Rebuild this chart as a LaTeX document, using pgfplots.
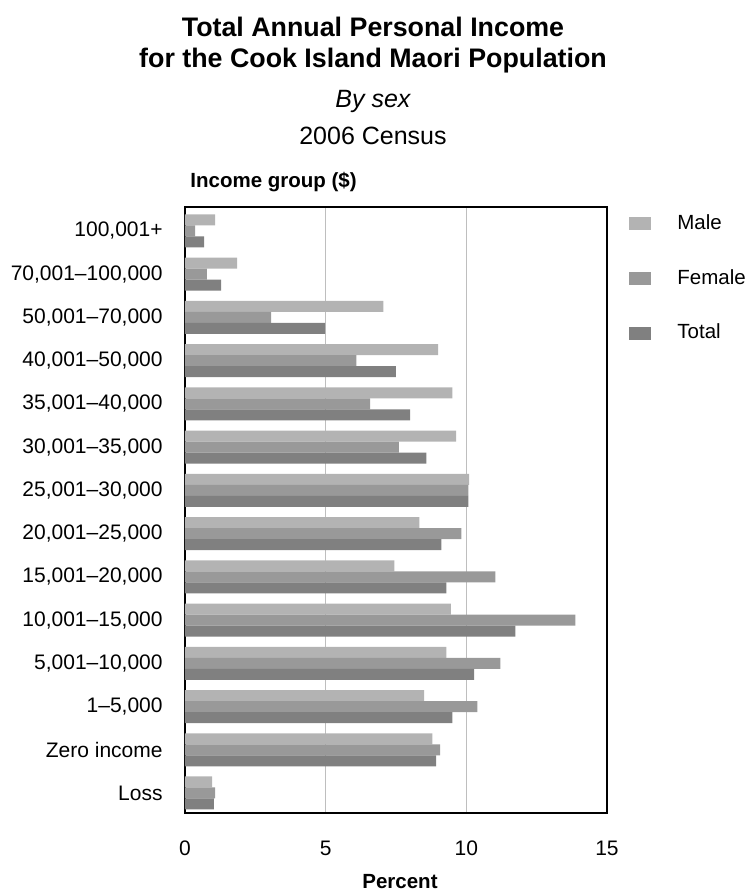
\documentclass[border=0pt]{standalone}
\usepackage{pgfplots}
\pgfplotsset{compat=1.18}
\usepackage{fontspec}
\setmainfont{Liberation Sans}
\definecolor{cmale}{HTML}{B3B3B3}
\definecolor{cfemale}{HTML}{999999}
\definecolor{ctotal}{HTML}{808080}
\definecolor{gridc}{HTML}{BEBEBE}
\pgfplotsset{legsq/.style={legend image code/.code={\fill[##1] (0pt,-3.25pt) rectangle (11pt,3.25pt);}}}
\pgfplotstableread{
y male female total
0 0.96 1.07 1.03
1 8.79 9.07 8.93
2 8.50 10.39 9.50
3 9.29 11.21 10.28
4 9.45 13.88 11.74
5 7.44 11.03 9.29
6 8.33 9.82 9.11
7 10.10 10.07 10.07
8 9.64 7.60 8.58
9 9.50 6.58 8.00
10 9.00 6.09 7.50
11 7.05 3.06 4.98
12 1.85 0.78 1.28
13 1.07 0.36 0.68
}\datatable
\begin{document}
\begin{tikzpicture}
\path[use as bounding box] (-92.5pt,-39pt) rectangle (281pt,406.5pt);
\begin{axis}[
  at={(0pt,0pt)}, anchor=south west,
  scale only axis, width=211pt, height=303pt,
  xbar, xmin=0, xmax=15, ymin=-0.463, ymax=13.555,
  bar width=0.2545,
  xtick={0,5,10,15},
  ytick={0,...,13},
  yticklabels={{Loss},{Zero income},{1–5,000},{5,001–10,000},{10,001–15,000},{15,001–20,000},{20,001–25,000},{25,001–30,000},{30,001–35,000},{35,001–40,000},{40,001–50,000},{50,001–70,000},{70,001–100,000},{100,001+}},
  major tick length=0pt, tick style={draw=none},
  xmajorgrids, grid style={gridc, line width=0.6pt},
  axis line style={black, line width=1pt},
  /pgf/number format/assume math mode=true,
  tick label style={font=\fontsize{10.5}{12}\selectfont},
  xticklabel style={anchor=base, inner sep=0pt, yshift=-21pt},
  yticklabel style={anchor=east, inner sep=0pt, xshift=-11pt},
  xlabel={Percent},
  xlabel style={at={(axis description cs:0.5,0)}, anchor=base, inner sep=0pt, yshift=-37.5pt, xshift=2pt, font=\fontsize{10.25}{12}\bfseries\selectfont},
  legend style={at={(rel axis cs:1,1)}, anchor=north west, draw=none, fill=none, font=\fontsize{10.25}{12}\selectfont, row sep=14.5pt, xshift=8pt, yshift=0.5pt,
    /tikz/every odd column/.append style={column sep=11pt}},
  legend cell align=left,
]
\addplot[xbar, fill=cmale, draw=none, bar shift=0.2545, legsq] table[x=male, y=y] {\datatable};
\addplot[xbar, fill=cfemale, draw=none, bar shift=0, legsq] table[x=female, y=y] {\datatable};
\addplot[xbar, fill=ctotal, draw=none, bar shift=-0.2545, legsq] table[x=total, y=y] {\datatable};
\legend{Male,Female,Total}
\end{axis}
\node[anchor=base west, inner sep=0pt, font=\fontsize{10.25}{12}\bfseries\selectfont] at (2.5pt,312.5pt) {Income group (\$)};
\node[anchor=base, inner sep=0pt, font=\fontsize{13.4}{15}\bfseries\selectfont] at (94pt,388pt) {Total Annual Personal Income};
\node[anchor=base, inner sep=0pt, font=\fontsize{13.4}{15}\bfseries\selectfont] at (94pt,372.5pt) {for the Cook Island Maori Population};
\node[anchor=base, inner sep=0pt, font=\fontsize{12.5}{15}\itshape\selectfont] at (94pt,352.5pt) {By sex};
\node[anchor=base, inner sep=0pt, font=\fontsize{12.5}{15}\selectfont] at (94pt,334pt) {2006 Census};
\end{tikzpicture}
\end{document}
